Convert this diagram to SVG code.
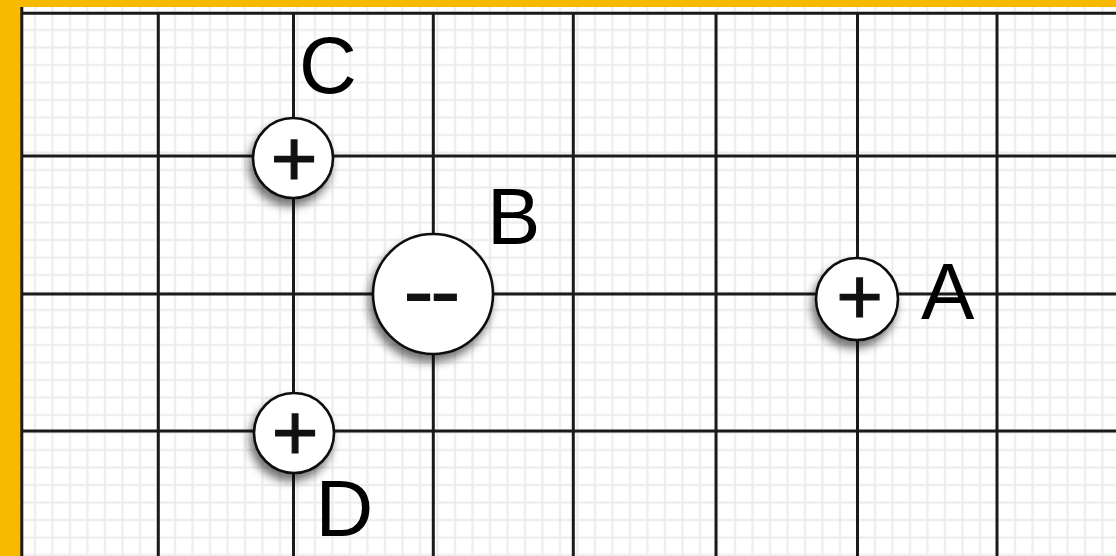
<svg xmlns="http://www.w3.org/2000/svg" width="1116" height="556" viewBox="0 0 1116 556">
<style>
.major{stroke:#1a1a1a;stroke-width:3;fill:none}
.node circle{fill:#ffffff;stroke:#111;stroke-width:2.6;filter:url(#sh)}
.sym{font-family:"Liberation Sans",Arial,sans-serif;fill:#111}
.plus{font-size:80px;stroke:#111;stroke-width:1.2}
.lbl{font-family:"Liberation Sans",Arial,sans-serif;font-size:80px;fill:#000}
</style>
<defs>
<pattern id="minor" patternUnits="userSpaceOnUse" x="-8.75" y="3.75" width="35" height="35">
<path d="M8.75 0V35M26.25 0V35M0 8.75H35M0 26.25H35" stroke="#ebebeb" stroke-width="2" fill="none"/>
</pattern>
<filter id="sh" x="-50%" y="-50%" width="200%" height="200%">
<feDropShadow dx="-3" dy="7" stdDeviation="5" flood-color="#000" flood-opacity="0.55"/>
</filter>
</defs>
<g id="background">
<rect x="0" y="0" width="1116" height="556" fill="#F8BA00"/>
<rect x="21" y="7" width="1095" height="549" fill="#ffffff"/>
<rect x="21" y="7" width="1095" height="549" fill="url(#minor)"/>
<path class="major" d="M21.8 7V556M158.3 13V556M293.5 13V556M433.3 13V556M573.3 13V556M716 13V556M857.5 13V556M997 13V556M21 13.2H1116M21 156H1116M21 294H1116M21 431H1116"/>
</g>
<g id="node-C" class="node">
<circle cx="293" cy="158" r="40"/>
<text class="sym plus" x="294" y="185.7" text-anchor="middle">+</text>
<text class="lbl" x="299" y="93">C</text>
</g>
<g id="node-B" class="node">
<circle cx="433" cy="294" r="60"/>
<text class="sym" x="402.8" y="322" font-size="95" letter-spacing="-5">--</text>
<text class="lbl" x="487" y="244">B</text>
</g>
<g id="node-A" class="node">
<circle cx="857" cy="299" r="41"/>
<text class="sym plus" x="859.5" y="324" text-anchor="middle">+</text>
<text class="lbl" x="921" y="319">A</text>
</g>
<g id="node-D" class="node">
<circle cx="294" cy="433" r="40"/>
<text class="sym plus" x="295" y="459.7" text-anchor="middle">+</text>
<text class="lbl" x="315.5" y="536">D</text>
</g>
</svg>
